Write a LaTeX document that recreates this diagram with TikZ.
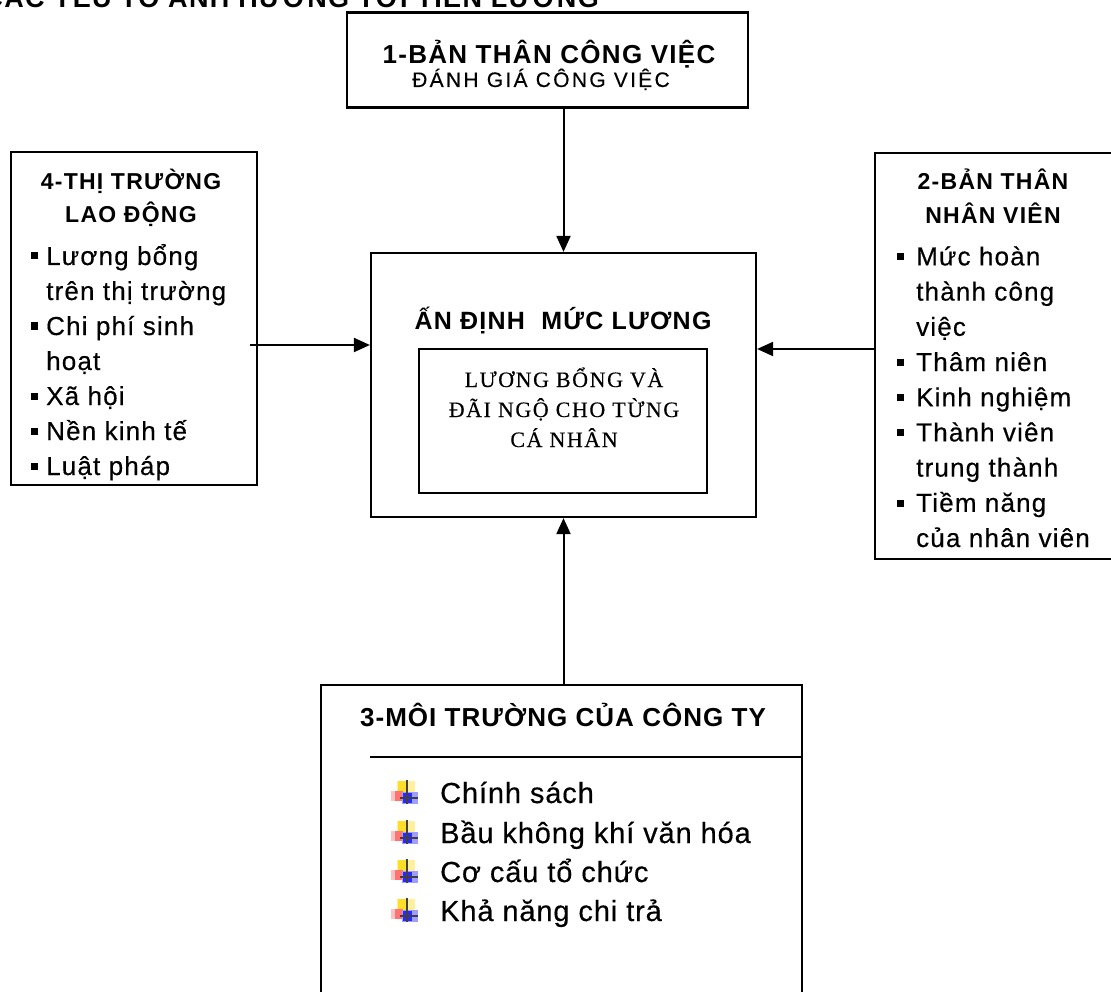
\documentclass[tikz,border=0pt]{standalone}
\usepackage{fontspec}
\setmainfont{Liberation Sans}
\newfontfamily\fTop[LetterSpace=5]{Liberation Sans}
\newfontfamily\fHead[LetterSpace=5]{Liberation Sans}
\newfontfamily\fSub[LetterSpace=11,FakeBold=0.4]{Liberation Sans}
\newfontfamily\fSide[LetterSpace=5.5]{Liberation Sans}
\newfontfamily\fItem[LetterSpace=4.5,FakeBold=0.4]{Liberation Sans}
\newfontfamily\fBotT[LetterSpace=4]{Liberation Sans}
\newfontfamily\fBot[LetterSpace=3,FakeBold=0.4]{Liberation Sans}
\newfontfamily\fSerifI[LetterSpace=7,FakeBold=0.3]{Liberation Serif}
\usetikzlibrary{arrows.meta}
\definecolor{icy}{RGB}{255,222,40}
\definecolor{icr}{RGB}{255,80,80}
\definecolor{icb}{RGB}{40,40,255}
\begin{document}
\begin{tikzpicture}[x=1pt,y=-1pt,
  box/.style={draw, line width=2.2pt, inner sep=0pt},
  conn/.style={line width=2pt, -{Triangle[length=16pt,width=14pt]}},
  txt/.style={inner sep=0pt, anchor=base},
  itm/.style={inner sep=0pt, anchor=base west, font=\fItem\fontsize{26}{31}\selectfont},
  bitm/.style={inner sep=0pt, anchor=base west, font=\fBot\fontsize{29}{34}\selectfont},
  sidehead/.style={inner sep=0pt, anchor=base, font=\fSide\bfseries\fontsize{23}{27}\selectfont},
  sq/.style={fill, inner sep=0pt, minimum size=7pt},
  ticon/.pic={
    \fill[icy!45] (6,-22) rectangle (24,-10);
    \fill[icy] (7,-22) rectangle (16,-10);
    \fill[icr!35] (0,-12) rectangle (4,-2);
    \fill[icr!80] (4,-12) rectangle (12,-2);
    \fill[icb!45] (11,-11) rectangle (27,1);
    \fill[icb] (12,-10) rectangle (21,0);
    \draw[line width=1.8pt, black!75] (16,-23) -- (16,1);
    \draw[line width=1.8pt, black!75] (9,-5) -- (27,-5);
  }]
\useasboundingbox (0,0) rectangle (1111,992);

% top (cut) title
\node[inner sep=0pt, anchor=base east, font=\fTop\bfseries\fontsize{27}{32}\selectfont] (title) at (599,7.5) {CÁC YẾU TỐ ẢNH HƯỞNG TỚI TIỀN LƯƠNG};

% boxes
\node[box, minimum width=401pt, minimum height=95pt] (b1) at (547.5,60) {};
\node[box, minimum width=385pt, minimum height=264pt] (c) at (563.5,385) {};
\node[box, minimum width=288pt, minimum height=144pt] (ci) at (563,421) {};
\node[box, minimum width=246pt, minimum height=333pt] (b4) at (134,318.5) {};
\node[box, minimum width=237pt, minimum height=406pt] (b2) at (993.5,356) {};
\node[box, minimum width=481pt, minimum height=330pt] (b3) at (561.5,850) {};

% box 1 text
\node[txt, font=\fHead\bfseries\fontsize{26}{31}\selectfont] (t1) at (549,64) {1-BẢN THÂN CÔNG VIỆC};
\node[txt, font=\fSub\fontsize{21}{25}\selectfont] (t1s) at (541,87) {ĐÁNH GIÁ CÔNG VIỆC};

% centre text
\node[txt, font=\fHead\bfseries\fontsize{25}{30}\selectfont] (tc) at (563,330) {ẤN ĐỊNH\ \ MỨC LƯƠNG};
\node[txt, font=\fSerifI\fontsize{22}{26}\selectfont] (tci1) at (564,387) {LƯƠNG BỔNG VÀ};
\node[txt, font=\fSerifI\fontsize{22}{26}\selectfont] (tci2) at (564,417) {ĐÃI NGỘ CHO TỪNG};
\node[txt, font=\fSerifI\fontsize{22}{26}\selectfont] (tci3) at (564,447) {CÁ NHÂN};

% left box
\node[sidehead] (t4a) at (131,190) {4-THỊ TRƯỜNG};
\node[sidehead] (t4b) at (131,223) {LAO ĐỘNG};
\node[itm] (l1) at (46,265) {Lương bổng};
\node[itm] (l1b) at (46,300) {trên thị trường};
\node[itm] (l2) at (46,335) {Chi phí sinh};
\node[itm] (l2b) at (46,370) {hoạt};
\node[itm] (l3) at (46,405) {Xã hội};
\node[itm] (l4) at (46,440) {Nền kinh tế};
\node[itm] (l5) at (46,475) {Luật pháp};
\node[sq] (lq1) at (34.5,256) {};
\node[sq] (lq2) at (34.5,326) {};
\node[sq] (lq3) at (34.5,396) {};
\node[sq] (lq4) at (34.5,431) {};
\node[sq] (lq5) at (34.5,466) {};

% right box
\node[sidehead] (t2a) at (993,190) {2-BẢN THÂN};
\node[sidehead] (t2b) at (993,224) {NHÂN VIÊN};
\node[itm] (r1) at (916,265.4) {Mức hoàn};
\node[itm] (r1b) at (916,300.6) {thành công};
\node[itm] (r1c) at (916,335.8) {việc};
\node[itm] (r2) at (916,371) {Thâm niên};
\node[itm] (r3) at (916,406.2) {Kinh nghiệm};
\node[itm] (r4) at (916,441.4) {Thành viên};
\node[itm] (r4b) at (916,476.6) {trung thành};
\node[itm] (r5) at (916,511.8) {Tiềm năng};
\node[itm] (r5b) at (916,547) {của nhân viên};
\node[sq] (rq1) at (900,256.9) {};
\node[sq] (rq2) at (900,362.5) {};
\node[sq] (rq3) at (900,397.7) {};
\node[sq] (rq4) at (900,432.9) {};
\node[sq] (rq5) at (900,503.3) {};

% bottom box
\node[txt, font=\fBotT\bfseries\fontsize{26}{31}\selectfont] (t3) at (563,726) {3-MÔI TRƯỜNG CỦA CÔNG TY};
\coordinate (div) at (370,757);
\draw[line width=2pt] (div) -- (div -| b3.east);
\node[bitm] (m1) at (440,803) {Chính sách};
\node[bitm] (m2) at (440,843) {Bầu không khí văn hóa};
\node[bitm] (m3) at (440,882) {Cơ cấu tổ chức};
\node[bitm] (m4) at (440,921) {Khả năng chi trả};
\pic at (391,803) {ticon};
\pic at (391,843) {ticon};
\pic at (391,882) {ticon};
\pic at (391,921) {ticon};

% connectors
\draw[conn] (c.north |- b1.south) -- (c.north);
\draw[conn] (c.south |- b3.north) -- (c.south);
\coordinate (ls) at (250,345);
\draw[conn] (ls) -- (ls -| c.west);
\coordinate (rs) at (875,349);
\draw[conn] (b2.west |- rs) -- (c.east |- rs);
\end{tikzpicture}
\end{document}
